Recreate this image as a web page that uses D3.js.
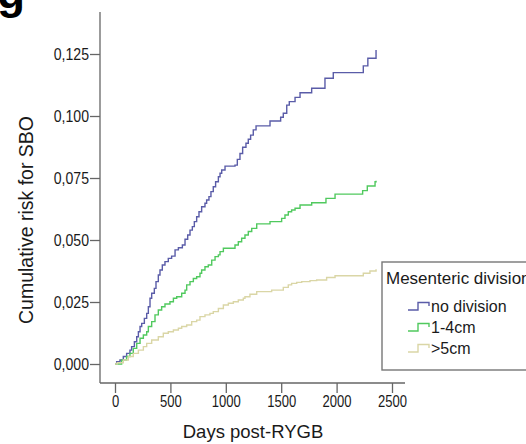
<!DOCTYPE html>
<html>
<head>
<meta charset="utf-8">
<script src="https://cdn.jsdelivr.net/npm/d3@7"></script>
<style>
  body { margin: 0; background: #fff; }
  svg { display: block; }
</style>
</head>
<body>
<svg id="chart" width="526" height="444"></svg>
<script>
// Cumulative risk of small bowel obstruction by mesenteric division group
const groupNames = ["no division", "1-4cm", ">5cm"];
const groupColors = ["#5a5ca8", "#50c95e", "#dad6a6"];

const noDivisionDays = [0, 15, 45, 75, 105, 135, 150, 175, 196, 211, 226, 241, 265, 286, 301, 316, 331, 355, 370, 391, 406, 427, 451, 481, 511, 542, 572, 608, 632, 656, 677, 698, 716, 737, 758, 782, 812, 827, 848, 866, 887, 908, 933, 948, 963, 993, 1083, 1104, 1128, 1152, 1182, 1203, 1224, 1248, 1273, 1399, 1495, 1519, 1550, 1573, 1625, 1670, 1775, 1895, 1970, 2241, 2282, 2356];
const noDivisionRisk = [0, 0.0009, 0.0016, 0.0030, 0.0043, 0.0056, 0.0070, 0.0090, 0.0110, 0.0130, 0.0151, 0.0164, 0.0184, 0.0204, 0.0231, 0.0265, 0.0285, 0.0305, 0.0332, 0.0359, 0.0379, 0.0399, 0.0413, 0.0426, 0.0435, 0.0460, 0.0469, 0.0480, 0.0503, 0.0520, 0.0540, 0.0554, 0.0574, 0.0594, 0.0614, 0.0634, 0.0648, 0.0661, 0.0675, 0.0695, 0.0715, 0.0735, 0.0755, 0.0769, 0.0782, 0.0798, 0.0802, 0.0825, 0.0849, 0.0874, 0.0890, 0.0906, 0.0923, 0.0944, 0.0960, 0.0980, 0.0995, 0.1011, 0.1044, 0.1058, 0.1075, 0.1094, 0.1112, 0.1152, 0.1175, 0.1202, 0.1233, 0.1266];

const division14Days = [0, 60, 105, 135, 165, 196, 226, 256, 286, 301, 331, 361, 391, 421, 451, 496, 527, 557, 602, 632, 647, 677, 707, 737, 767, 782, 812, 842, 873, 903, 933, 948, 978, 1083, 1113, 1143, 1173, 1203, 1234, 1279, 1399, 1504, 1534, 1564, 1594, 1625, 1670, 1775, 1904, 1986, 2235, 2277, 2347, 2356];
const division14Risk = [0, 0.0016, 0.0030, 0.0043, 0.0063, 0.0083, 0.0104, 0.0117, 0.0130, 0.0151, 0.0171, 0.0198, 0.0218, 0.0231, 0.0242, 0.0251, 0.0265, 0.0271, 0.0285, 0.0298, 0.0319, 0.0332, 0.0345, 0.0352, 0.0366, 0.0379, 0.0392, 0.0399, 0.0419, 0.0433, 0.0440, 0.0453, 0.0467, 0.0480, 0.0493, 0.0507, 0.0520, 0.0534, 0.0547, 0.0565, 0.0574, 0.0587, 0.0601, 0.0614, 0.0621, 0.0628, 0.0641, 0.0650, 0.0668, 0.0685, 0.0699, 0.0718, 0.0735, 0.0739];

const division5Days = [0, 20, 75, 120, 165, 211, 256, 286, 331, 391, 436, 481, 527, 572, 602, 647, 692, 737, 767, 812, 857, 887, 933, 978, 1023, 1068, 1113, 1158, 1173, 1218, 1279, 1414, 1519, 1564, 1594, 1640, 1685, 1760, 1820, 1910, 1986, 2241, 2301, 2356];
const division5Risk = [0, 0.0005, 0.0016, 0.0030, 0.0043, 0.0056, 0.0070, 0.0083, 0.0097, 0.0110, 0.0124, 0.0130, 0.0137, 0.0144, 0.0151, 0.0157, 0.0171, 0.0177, 0.0191, 0.0198, 0.0204, 0.0211, 0.0224, 0.0238, 0.0245, 0.0251, 0.0258, 0.0265, 0.0271, 0.0281, 0.0292, 0.0298, 0.0309, 0.0319, 0.0325, 0.0329, 0.0332, 0.0336, 0.0339, 0.0349, 0.0356, 0.0366, 0.0375, 0.0382];

const xTicks = [0, 500, 1000, 1500, 2000, 2500];
const xTickLabels = ["0", "500", "1000", "1500", "2000", "2500"];
const yTicks = [0, 0.025, 0.05, 0.075, 0.1, 0.125];
const yTickLabels = ["0,000", "0,025", "0,050", "0,075", "0,100", "0,125"];

const seriesDays = [noDivisionDays, division14Days, division5Days];
const seriesRisk = [noDivisionRisk, division14Risk, division5Risk];

const svg = d3.select("#chart");
const axisColor = "#666";
const textColor = "#1a1a1a";
const mainFont = "'Liberation Sans', Arial, sans-serif";

const x = d3.scaleLinear().domain([0, 2500]).range([115, 392]);
const y = d3.scaleLinear().domain([0, 0.125]).range([364, 54]);

// panel letter, partly above the top edge
svg.append("text")
  .attr("x", -3).attr("y", 8)
  .attr("font-family", mainFont).attr("font-weight", "bold")
  .attr("font-size", 46).attr("fill", "#000")
  .text("g");

// axis lines (L-shaped frame)
const xAxisY = 383;
const yAxisX = 100;
svg.append("line")
  .attr("x1", yAxisX).attr("x2", yAxisX)
  .attr("y1", 12).attr("y2", xAxisY)
  .attr("stroke", axisColor).attr("stroke-width", 1.3);
svg.append("line")
  .attr("x1", yAxisX).attr("x2", 405)
  .attr("y1", xAxisY).attr("y2", xAxisY)
  .attr("stroke", axisColor).attr("stroke-width", 1.3);

const xAxis = svg.append("g")
  .attr("transform", `translate(0,${xAxisY})`)
  .call(d3.axisBottom(x).tickValues(xTicks).tickFormat((d, i) => xTickLabels[i])
    .tickSize(10).tickPadding(3).tickSizeOuter(0));
xAxis.select(".domain").remove();

const yAxis = svg.append("g")
  .attr("transform", `translate(${yAxisX},0)`)
  .call(d3.axisLeft(y).tickValues(yTicks).tickFormat((d, i) => yTickLabels[i])
    .tickSize(10).tickPadding(1).tickSizeOuter(0));
yAxis.select(".domain").remove();

// tick labels use a condensed face: squeeze glyphs to a narrow width
[xAxis, yAxis].forEach(g => {
  g.selectAll(".tick line").attr("stroke", axisColor).attr("stroke-width", 1.3);
  g.selectAll(".tick text")
    .attr("fill", textColor)
    .attr("font-family", mainFont)
    .attr("font-size", 16)
    .attr("lengthAdjust", "spacingAndGlyphs")
    .attr("textLength", function () {
      const s = d3.select(this).text();
      return s.length * 7.25 - (s.includes(",") ? 1 : 0);
    });
});

// axis titles
svg.append("text")
  .attr("x", 253).attr("y", 438)
  .attr("text-anchor", "middle")
  .attr("font-family", mainFont).attr("font-size", 18.5)
  .attr("fill", textColor)
  .text("Days post-RYGB");

svg.append("text")
  .attr("transform", "translate(33,220) rotate(-90)")
  .attr("text-anchor", "middle")
  .attr("font-family", mainFont).attr("font-size", 19.5)
  .attr("fill", textColor)
  .text("Cumulative risk for SBO");

// step curves
const line = d3.line()
  .x(d => x(d[0]))
  .y(d => y(d[1]))
  .curve(d3.curveStepAfter);

seriesDays.forEach((days, i) => {
  const pts = days.map((d, j) => [d, seriesRisk[i][j]]);
  svg.append("path")
    .datum(pts)
    .attr("d", line)
    .attr("fill", "none")
    .attr("stroke", groupColors[i])
    .attr("stroke-width", 1.4);
});

// legend
const legend = svg.append("g");
legend.append("rect")
  .attr("x", 382).attr("y", 262)
  .attr("width", 170).attr("height", 108)
  .attr("fill", "#fff")
  .attr("stroke", "#777").attr("stroke-width", 1.4);
legend.append("text")
  .attr("x", 386).attr("y", 284)
  .attr("font-family", mainFont).attr("font-size", 17)
  .attr("fill", textColor)
  .text("Mesenteric division");

const legendBase = [312, 333, 354];
groupNames.forEach((name, i) => {
  const b = legendBase[i];
  legend.append("path")
    .attr("d", `M408,${b - 2}H418V${b - 9.5}H429V${b - 6}`)
    .attr("fill", "none")
    .attr("stroke", groupColors[i])
    .attr("stroke-width", 1.4);
  legend.append("text")
    .attr("x", 431).attr("y", b)
    .attr("font-family", mainFont).attr("font-size", 16)
    .attr("fill", textColor)
    .text(name);
});
</script>
</body>
</html>
